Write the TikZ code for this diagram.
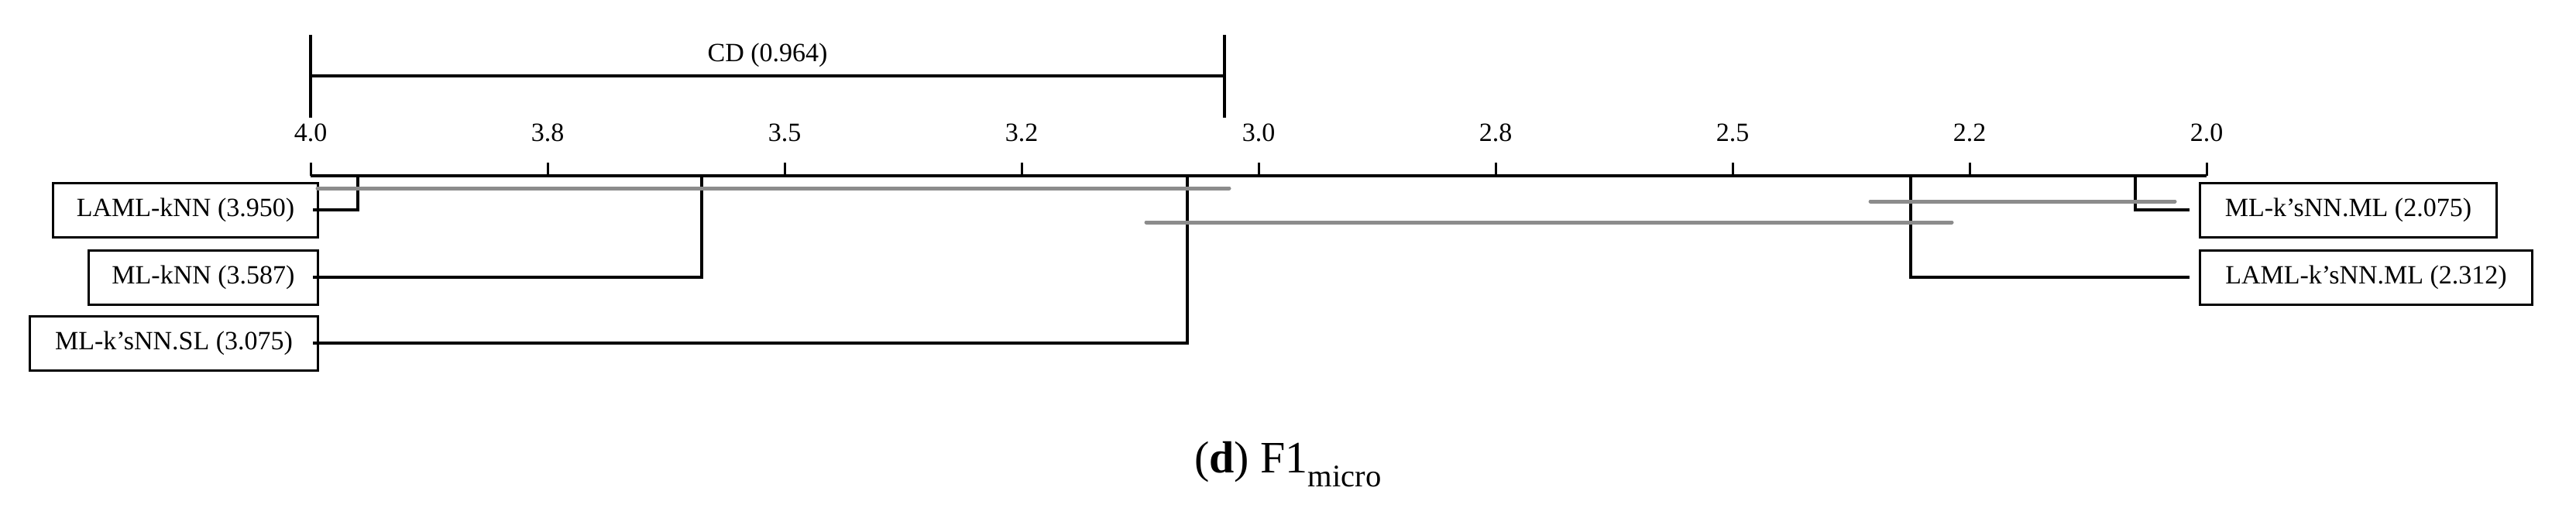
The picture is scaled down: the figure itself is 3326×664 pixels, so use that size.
\documentclass[tikz,border=0pt]{standalone}
\usepackage{fontspec}
\setmainfont{Liberation Serif}
\begin{document}
\begin{tikzpicture}[x=1pt,y=-1pt,
  lab/.style={draw,line width=3pt,minimum height=70pt,inner sep=0pt,font=\fontsize{34}{40}\selectfont},
  tk/.style={font=\fontsize{34}{40}\selectfont},
  blk/.style={line width=4.5pt},
  gry/.style={line width=5pt,color=gray!90,line cap=round}]
\useasboundingbox (0,0) rectangle (3326,664);
% CD bar
\coordinate (cda) at (401,45); \coordinate (cdb) at (1581,45);
\draw[line width=3.5pt] (401,45) -- (401,152);
\draw[line width=3.5pt] (1581,45) -- (1581,152);
\draw[blk] (401,98) -- (1581,98);
\node[tk,anchor=south] (cd) at (991,90) {CD (0.964)};
% axis
\draw[blk] (401,227) -- (2849,227);
\foreach \i/\t in {0/4.0,1/3.8,2/3.5,3/3.2,4/3.0,5/2.8,6/2.5,7/2.2,8/2.0}{
  \draw[line width=3pt] ({401+306*\i},210) -- ({401+306*\i},227);
  \node[tk,anchor=base] (t\i) at ({401+306*\i},182) {\t};
}
% boxes
\node[lab,anchor=east,minimum width=342pt] (a) at (412,271) {LAML-kNN (3.950)};
\node[lab,anchor=east,minimum width=296pt] (b) at (412,358) {ML-kNN (3.587)};
\node[lab,anchor=east,minimum width=372pt] (c) at (412,443) {ML-k'sNN.SL (3.075)};
\node[lab,anchor=west,minimum width=383pt] (d) at (2839,271) {ML-k'sNN.ML (2.075)};
\node[lab,anchor=west,minimum width=429pt] (e) at (2839,358) {LAML-k'sNN.ML (2.312)};
% connectors
\draw[blk] (462,227) |- ([xshift=-8pt]a.east);
\draw[blk] (906,227) |- ([xshift=-8pt]b.east);
\draw[blk] (1533,227) |- ([xshift=-8pt]c.east);
\draw[blk] (2757,227) |- ([xshift=-12pt]d.west);
\draw[blk] (2467,227) |- ([xshift=-12pt]e.west);
% cliques
\draw[gry] (410,243) -- (1587,243);
\draw[gry] (1480,287) -- (2520,287);
\draw[gry] (2415,260) -- (2808,260);
% caption
\node[font=\fontsize{58}{66}\selectfont,anchor=base] (cap) at (1663,610) {(\textbf{d}) F1$_{\mathrm{micro}}$};
\end{tikzpicture}
\end{document}
